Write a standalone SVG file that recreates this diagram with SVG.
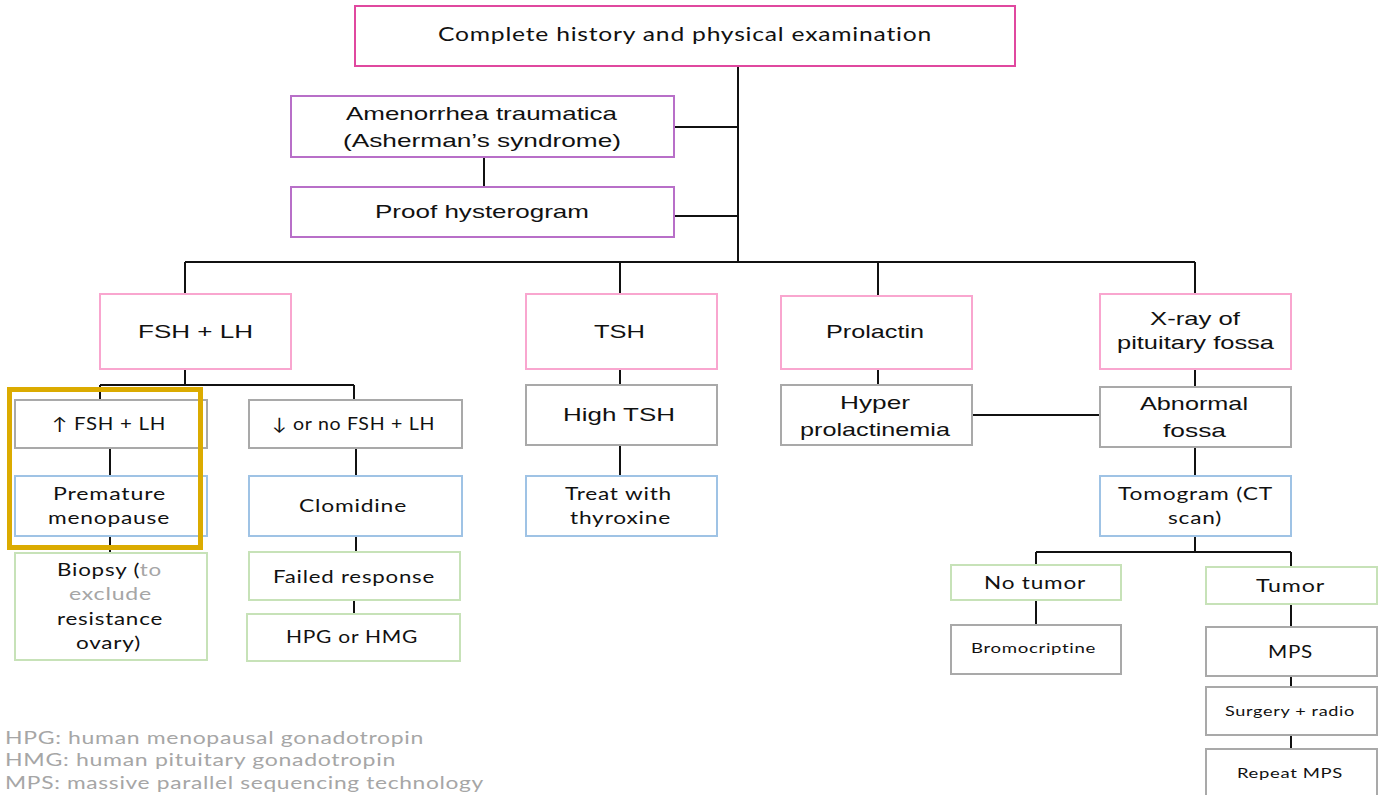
<svg xmlns="http://www.w3.org/2000/svg" width="1379" height="795" viewBox="0 0 1379 795">
<style>
rect{fill:#fff;stroke-width:2}
.mag{stroke:#e0489f}
.pur{stroke:#b86fc8}
.pink{stroke:#f9a6cf}
.gray{stroke:#a9a9a9}
.blue{stroke:#9fc3e5}
.green{stroke:#c7e2b8}
.gold{fill:none;stroke:#dbab00;stroke-width:5}
text{fill:#111;text-anchor:middle}
.a{font-family:"Liberation Sans",Arial,sans-serif;font-size:19px}
.c{font-family:Lato,"Open Sans",sans-serif;font-size:17px;letter-spacing:0.6px}
.s{font-family:Lato,"Open Sans",sans-serif;font-size:14px;letter-spacing:0.5px}
.o{font-family:Lato,"Open Sans",sans-serif;font-size:19px;letter-spacing:0.6px}
.lg{font-family:Lato,"Open Sans",sans-serif;font-size:17px;fill:#a6a6a6;text-anchor:start;letter-spacing:0.5px}
.g{fill:#a6a6a6}
#connectors path{fill:none;stroke:#111;stroke-width:2}
</style>
<rect width="1379" height="795" style="fill:#fff;stroke:none"/>
<g id="connectors">
<path d="M738 66V262M674 127H738M674 216H738M484 157V187"/>
<path d="M185 262H1195M185 262V294M620 262V294M878 262V296M1195 262V294"/>
<path d="M185 369V385M100 385H354M100 385V400M354 385V400M110 448V476M110 536V553M356 448V476M356 536V552M354 600V614"/>
<path d="M620 369V385M620 445V476"/>
<path d="M878 369V385M972 415H1100"/>
<path d="M1195 369V387M1195 447V476M1195 536V552M1036 552H1291M1036 552V565M1291 552V567M1036 600V625M1291 604V627M1291 676V687M1291 735V749"/>
</g>
<g id="history"><rect class="mag" x="355" y="6" width="660" height="60"/><text class="o" x="685" y="41" textLength="494" lengthAdjust="spacingAndGlyphs">Complete history and physical examination</text></g>
<g id="asherman"><rect class="pur" x="291" y="96" width="383" height="61"/><text class="a" x="481.5" y="120" textLength="271" lengthAdjust="spacingAndGlyphs">Amenorrhea traumatica</text><text class="a" x="482" y="147" textLength="278" lengthAdjust="spacingAndGlyphs">(Asherman’s syndrome)</text></g>
<g id="hysterogram"><rect class="pur" x="291" y="187" width="383" height="50"/><text class="a" x="482" y="218" textLength="214" lengthAdjust="spacingAndGlyphs">Proof hysterogram</text></g>
<g id="fshlh"><rect class="pink" x="100" y="294" width="191" height="75"/><text class="a" x="195.5" y="338" textLength="115" lengthAdjust="spacingAndGlyphs">FSH + LH</text></g>
<g id="tsh"><rect class="pink" x="526" y="294" width="191" height="75"/><text class="a" x="619.5" y="338" textLength="51" lengthAdjust="spacingAndGlyphs">TSH</text></g>
<g id="prolactin"><rect class="pink" x="781" y="296" width="191" height="73"/><text class="a" x="875" y="338" textLength="98" lengthAdjust="spacingAndGlyphs">Prolactin</text></g>
<g id="xray"><rect class="pink" x="1100" y="294" width="191" height="75"/><text class="a" x="1195" y="325" textLength="90" lengthAdjust="spacingAndGlyphs">X-ray of</text><text class="a" x="1195.5" y="349" textLength="157" lengthAdjust="spacingAndGlyphs">pituitary fossa</text></g>
<g id="highfsh"><rect class="gray" x="15" y="400" width="192" height="48"/><text class="c" x="109" y="430" textLength="114" lengthAdjust="spacingAndGlyphs">↑ FSH + LH</text></g>
<g id="lowfsh"><rect class="gray" x="249" y="400" width="213" height="48"/><text class="c" x="353.5" y="430" textLength="163" lengthAdjust="spacingAndGlyphs">↓ or no FSH + LH</text></g>
<g id="premature"><rect class="blue" x="15" y="476" width="192" height="60"/><text class="c" x="109.5" y="500" textLength="113" lengthAdjust="spacingAndGlyphs">Premature</text><text class="c" x="109" y="524" textLength="122" lengthAdjust="spacingAndGlyphs">menopause</text></g>
<g id="clomidine"><rect class="blue" x="249" y="476" width="213" height="60"/><text class="c" x="353" y="512" textLength="108" lengthAdjust="spacingAndGlyphs">Clomidine</text></g>
<g id="biopsy"><rect class="green" x="15" y="553" width="192" height="107"/><text class="c" x="109.5" y="576" textLength="105" lengthAdjust="spacingAndGlyphs">Biopsy (<tspan class="g">to</tspan></text><text class="c g" x="110.5" y="600" textLength="83" lengthAdjust="spacingAndGlyphs">exclude</text><text class="c" x="110" y="625" textLength="106" lengthAdjust="spacingAndGlyphs">resistance</text><text class="c" x="108.5" y="649" textLength="65" lengthAdjust="spacingAndGlyphs">ovary)</text></g>
<g id="failed"><rect class="green" x="249" y="552" width="211" height="48"/><text class="c" x="354" y="583" textLength="162" lengthAdjust="spacingAndGlyphs">Failed response</text></g>
<g id="hpg"><rect class="green" x="247" y="614" width="213" height="47"/><text class="c" x="352" y="643" textLength="132" lengthAdjust="spacingAndGlyphs">HPG or HMG</text></g>
<g id="hightsh"><rect class="gray" x="526" y="385" width="191" height="60"/><text class="a" x="619" y="421" textLength="112" lengthAdjust="spacingAndGlyphs">High  TSH</text></g>
<g id="thyroxine"><rect class="blue" x="526" y="476" width="191" height="60"/><text class="c" x="618.5" y="500" textLength="107" lengthAdjust="spacingAndGlyphs">Treat with</text><text class="c" x="620.5" y="524" textLength="101" lengthAdjust="spacingAndGlyphs">thyroxine</text></g>
<g id="hyper"><rect class="gray" x="781" y="385" width="191" height="60"/><text class="a" x="875" y="409" textLength="70" lengthAdjust="spacingAndGlyphs">Hyper</text><text class="a" x="875" y="436" textLength="150" lengthAdjust="spacingAndGlyphs">prolactinemia</text></g>
<g id="abnormal"><rect class="gray" x="1100" y="387" width="191" height="60"/><text class="a" x="1194" y="410" textLength="108" lengthAdjust="spacingAndGlyphs">Abnormal</text><text class="a" x="1194.5" y="437" textLength="63" lengthAdjust="spacingAndGlyphs">fossa</text></g>
<g id="tomogram"><rect class="blue" x="1100" y="476" width="191" height="60"/><text class="c" x="1195.5" y="500" textLength="155" lengthAdjust="spacingAndGlyphs">Tomogram (CT</text><text class="c" x="1195" y="524" textLength="54" lengthAdjust="spacingAndGlyphs">scan)</text></g>
<g id="notumor"><rect class="green" x="951" y="565" width="170" height="35"/><text class="c" x="1035" y="589" textLength="102" lengthAdjust="spacingAndGlyphs">No tumor</text></g>
<g id="tumor"><rect class="green" x="1206" y="567" width="171" height="37"/><text class="c" x="1290.5" y="592" textLength="69" lengthAdjust="spacingAndGlyphs">Tumor</text></g>
<g id="bromocriptine"><rect class="gray" x="951" y="625" width="170" height="49"/><text class="s" x="1033.5" y="653" textLength="125" lengthAdjust="spacingAndGlyphs">Bromocriptine</text></g>
<g id="mps"><rect class="gray" x="1206" y="627" width="171" height="49"/><text class="c" x="1290.5" y="658" textLength="45" lengthAdjust="spacingAndGlyphs">MPS</text></g>
<g id="surgery"><rect class="gray" x="1206" y="687" width="171" height="48"/><text class="s" x="1290" y="716" textLength="130" lengthAdjust="spacingAndGlyphs">Surgery + radio</text></g>
<g id="repeat"><rect class="gray" x="1206" y="749" width="171" height="50"/><text class="s" x="1290" y="778" textLength="106" lengthAdjust="spacingAndGlyphs">Repeat MPS</text></g>
<rect class="gold" x="9.5" y="389.5" width="191" height="158"/>
<g id="legend"><text class="lg" x="5" y="744" textLength="419" lengthAdjust="spacingAndGlyphs">HPG: human menopausal gonadotropin</text><text class="lg" x="5" y="766" textLength="391" lengthAdjust="spacingAndGlyphs">HMG: human pituitary gonadotropin</text><text class="lg" x="5" y="789" textLength="479" lengthAdjust="spacingAndGlyphs">MPS: massive parallel sequencing technology</text></g>
</svg>
